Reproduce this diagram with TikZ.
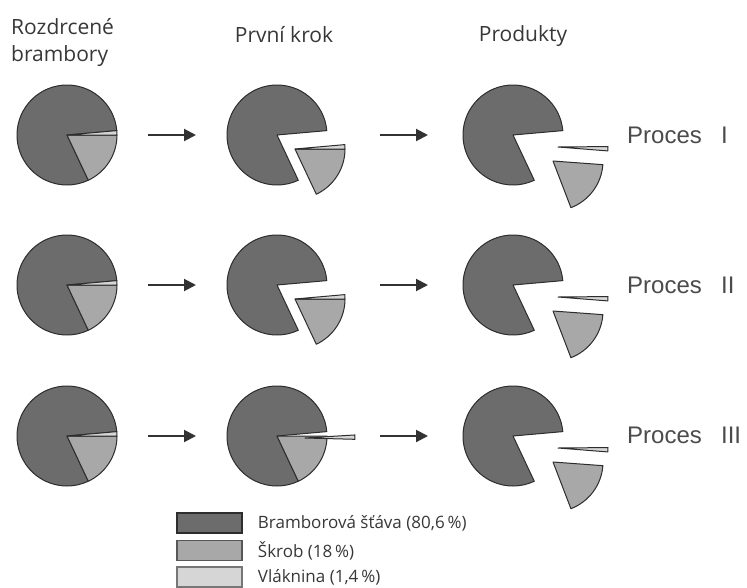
\documentclass[tikz,border=0pt]{standalone}
\usepackage{fontspec}
\newfontfamily\labelfont{Open Sans}
\newfontfamily\procfont{Liberation Sans}
\usetikzlibrary{arrows.meta,positioning,calc}
\definecolor{juicefill}{RGB}{108,108,108}
\definecolor{starchfill}{RGB}{168,168,168}
\definecolor{fibrefill}{RGB}{214,214,214}
\definecolor{pieline}{RGB}{45,45,45}
\definecolor{arrowgray}{RGB}{50,50,50}
\definecolor{txtgray}{RGB}{55,55,55}

% one slice: centre, start angle, end angle, style
\newcommand{\pieslice}[4]{%
  \filldraw[#4] (#1) -- ++(#2:50pt) arc[start angle=#2, end angle=#3, radius=50pt] -- cycle;}
\newcommand{\wholepie}[1]{%
  \pieslice{#1.center}{5.04}{295.2}{juice}
  \pieslice{#1.center}{-64.8}{0}{starch}
  \pieslice{#1.center}{0}{5.04}{fibre}}
\newcommand{\starchout}[1]{%
  \pieslice{#1.center}{5.04}{295.2}{juice}
  \pieslice{$(#1.center)+(18,-14)$}{-64.8}{0}{starch}
  \pieslice{$(#1.center)+(18,-14)$}{0}{5.04}{fibre}}
\newcommand{\fibreout}[1]{%
  \pieslice{#1.center}{5.04}{295.2}{juice}
  \pieslice{#1.center}{-64.8}{0}{starch}
  \pieslice{$(#1.center)+(28,-2)$}{-1.5}{3.5}{fibre}}
\newcommand{\allapart}[1]{%
  \pieslice{#1.center}{5.04}{295.2}{juice}
  \pieslice{$(#1.center)+(40,-26)$}{-69}{-4.2}{starch}
  \pieslice{$(#1.center)+(45,-12)$}{-4.5}{0.5}{fibre}}

\begin{document}
\begin{tikzpicture}[
  x=1pt, y=1pt,
  piespot/.style={circle, minimum size=100pt, inner sep=0pt, outer sep=0pt},
  juice/.style={fill=juicefill, draw=pieline, line width=1pt, line join=round},
  starch/.style={juice, fill=starchfill},
  fibre/.style={juice, fill=fibrefill},
  flow/.style={-{Triangle[length=12pt, width=12pt]}, line width=2pt, draw=arrowgray},
  head/.style={font=\labelfont\fontsize{21}{27}\selectfont, text=txtgray, inner sep=0pt},
  proc/.style={font=\procfont\fontsize{24}{28}\selectfont, text=txtgray!90, inner sep=0pt, anchor=base west},
  keybox/.style={draw, line width=1.5pt, minimum width=65pt, minimum height=20pt, inner sep=0pt},
  keytext/.style={font=\labelfont\fontsize{17}{20}\selectfont, text=txtgray, inner sep=1pt}
]
\useasboundingbox (0,0) rectangle (747,-587);

% ---- column heads
\node[head, anchor=north west, align=left] (hin) at (11,-18) {Rozdrcené\\brambory};
\node[head, anchor=base] (hstep) at (284,-42) {První krok};
\node[head, anchor=base] (hout) at (523,-41) {Produkty};

% ---- pie spots
\node[piespot] (p11) at (67,-135) {};
\node[piespot] (p12) at (277,-135) {};
\node[piespot] (p13) at (513,-135) {};
\node[piespot] (p21) at (67,-285) {};
\node[piespot] (p22) at (277,-285) {};
\node[piespot] (p23) at (513,-285) {};
\node[piespot] (p31) at (67,-436) {};
\node[piespot] (p32) at (277,-436) {};
\node[piespot] (p33) at (513,-436) {};

% ---- pies
\wholepie{p11} \starchout{p12} \allapart{p13}
\wholepie{p21} \starchout{p22} \allapart{p23}
\wholepie{p31} \fibreout{p32}  \allapart{p33}

% ---- arrows
\foreach \r in {1,2,3} {
  \draw[flow, shorten <=31pt, shorten >=31pt] (p\r1) -- (p\r2);
  \draw[flow, shorten <=53pt, shorten >=35pt] (p\r2) -- (p\r3);
}

% ---- process names
\node[proc] (c1) at (627,-143) {Proces\hspace{0.8em}I};
\node[proc] (c2) at (627,-293) {Proces\hspace{0.8em}II};
\node[proc] (c3) at (627,-443) {Proces\hspace{0.8em}III};

% ---- legend
\node[keybox, fill=juicefill, draw=pieline] (k1) at (209.5,-523) {};
\node[keybox, fill=starchfill, draw=pieline!80] (k2) at (209.5,-550.5) {};
\node[keybox, fill=fibrefill, draw=pieline!65] (k3) at (209.5,-577) {};
\node[keytext, right=14pt of k1] (t1) {Bramborová šťáva (80,6\,\%)};
\node[keytext, right=14pt of k2] (t2) {Škrob (18\,\%)};
\node[keytext, right=14pt of k3] (t3) {Vláknina (1,4\,\%)};
\end{tikzpicture}
\end{document}
